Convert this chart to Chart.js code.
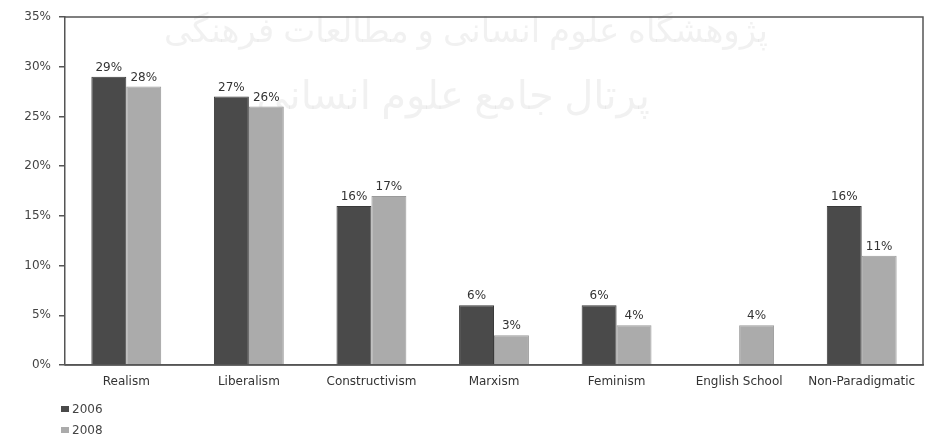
<!DOCTYPE html>
<html>
<head>
<meta charset="utf-8">
<script src="https://cdn.jsdelivr.net/npm/chart.js@4.4.0/dist/chart.umd.min.js"></script>
<style>
html,body{margin:0;padding:0;background:#fff;}
#wrap{width:942px;height:434px;position:relative;}
</style>
</head>
<body>
<div id="wrap"><canvas id="c" width="942" height="434"></canvas></div>
<script>
const categories = ["Realism","Liberalism","Constructivism","Marxism","Feminism","English School","Non-Paradigmatic"];
const series2006 = [29, 27, 16, 6, 6, null, 16];
const series2008 = [28, 26, 17, 3, 4, 4, 11];
const seriesLabels = ["2006", "2008"];
const yTicks = [0, 5, 10, 15, 20, 25, 30, 35];
const watermark1 = "پژوهشگاه علوم انسانی و مطالعات فرهنگی";
const watermark2 = "پرتال جامع علوم انسانی";

const FONT = "'DejaVu Sans', sans-serif";
const colors = ["#4a4a4a", "#ababab"];
const borders = ["#3a3a3a", "#9a9a9a"];

const framePlugin = {
  id: 'frame',
  beforeDatasetsDraw(chart) {
    const {ctx} = chart;
    ctx.save();
    ctx.fillStyle = 'rgba(120,120,120,0.10)';
    ctx.textAlign = 'center';
    ctx.textBaseline = 'middle';
    ctx.font = "34px 'Noto Sans', 'DejaVu Sans', sans-serif";
    ctx.fillText(watermark1, 466, 32);
    ctx.font = "40px 'Noto Sans', 'DejaVu Sans', sans-serif";
    ctx.fillText(watermark2, 453, 98);
    ctx.restore();
  },
  afterDraw(chart) {
    const {ctx, chartArea: a} = chart;
    ctx.save();
    ctx.strokeStyle = '#555';
    ctx.lineWidth = 1.5;
    ctx.beginPath();
    ctx.moveTo(a.left, a.top);
    ctx.lineTo(a.right, a.top);
    ctx.lineTo(a.right, a.bottom);
    ctx.lineTo(a.left, a.bottom);
    ctx.stroke();
    // data labels
    ctx.fillStyle = '#333';
    ctx.font = "12px " + FONT;
    ctx.textAlign = 'center';
    ctx.textBaseline = 'bottom';
    chart.data.datasets.forEach((ds, i) => {
      const meta = chart.getDatasetMeta(i);
      meta.data.forEach((bar, j) => {
        const v = ds.data[j];
        if (v === null || v === undefined) return;
        ctx.fillText(v + '%', bar.x, bar.y - 3);
      });
    });
    // legend
    const lx = 61, ly0 = 409, dy = 21;
    chart.data.datasets.forEach((ds, i) => {
      const y = ly0 + i * dy;
      ctx.fillStyle = ds.backgroundColor;
      ctx.fillRect(lx, y - 3, 8, 6);
      ctx.fillStyle = '#444';
      ctx.textAlign = 'left';
      ctx.textBaseline = 'middle';
      ctx.fillText(ds.label, lx + 11, y + 1);
    });
    ctx.restore();
  }
};

new Chart(document.getElementById('c'), {
  type: 'bar',
  data: {
    labels: categories,
    datasets: [
      {label: seriesLabels[0], data: series2006, backgroundColor: colors[0], borderColor: borders[0], borderWidth: 1},
      {label: seriesLabels[1], data: series2008, backgroundColor: colors[1], borderColor: borders[1], borderWidth: 1}
    ]
  },
  options: {
    responsive: false,
    animation: false,
    devicePixelRatio: 1,
    layout: {padding: {left: 0, right: 19, top: 17, bottom: 44}},
    plugins: {legend: {display: false}, tooltip: {enabled: false}},
    datasets: {bar: {barPercentage: 1, categoryPercentage: 0.57}},
    scales: {
      x: {
        grid: {display: false, drawTicks: false},
        border: {display: true, color: '#555', width: 1.5},
        ticks: {color: '#333', font: {family: FONT, size: 12}, padding: 10, maxRotation: 0, autoSkip: false},
        afterFit(s) { s.height = 25; }
      },
      y: {
        min: 0, max: 35,
        afterBuildTicks(s) { s.ticks = yTicks.map(v => ({value: v})); },
        grid: {drawOnChartArea: false, drawTicks: true, tickLength: 6, color: '#555', lineWidth: 1.5},
        border: {display: true, color: '#555', width: 1.5},
        ticks: {color: '#444', font: {family: FONT, size: 12}, padding: 8, callback: v => v + '%'},
        afterFit(s) { s.width = 65; }
      }
    }
  },
  plugins: [framePlugin]
});
</script>
</body>
</html>
